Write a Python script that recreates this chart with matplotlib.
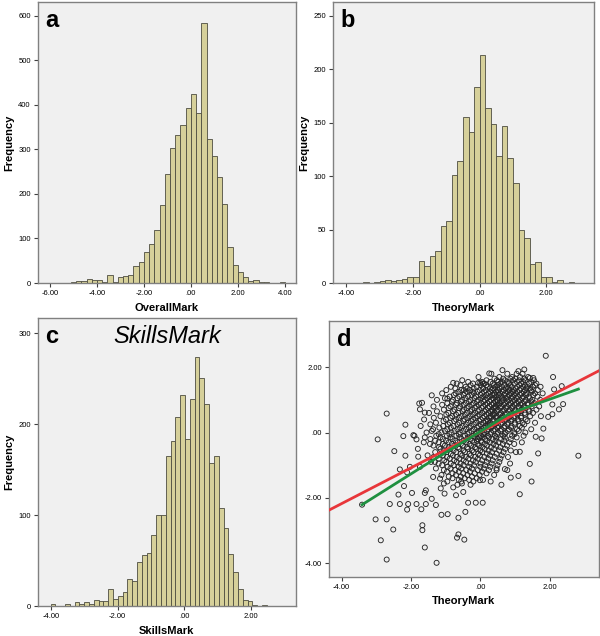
import numpy as np
import matplotlib
matplotlib.use('Agg')
import matplotlib.pyplot as plt

plt.rcParams['font.family'] = ['Liberation Sans', 'DejaVu Sans']

# histogram a: OverallMark, bins of 2/9 starting at -25*2/9
overall_start = -25 * 2 / 9
overall_width = 2 / 9
overall_counts = [1, 1, 2, 4, 5, 9, 7, 6, 3, 17, 2, 13, 16, 18, 39, 48, 69, 87, 120, 176,
                  245, 303, 333, 355, 392, 424, 381, 583, 323, 285, 238, 177, 80, 40, 25, 13,
                  5, 7, 2, 2, 0, 0, 2]

# histogram b: TheoryMark, bins of 1/6 starting at -21/6
theory_start = -21 / 6
theory_width = 1 / 6
theory_counts = [1, 0, 1, 2, 3, 2, 3, 4, 6, 6, 21, 16, 25, 30, 53, 58, 101, 114, 155, 141,
                 183, 213, 164, 149, 119, 147, 117, 94, 50, 42, 18, 20, 6, 6, 1, 3, 0, 1]

# histogram c: SkillsMark
skills_start = 0.03 - 28 * 0.1445
skills_width = 0.1445
skills_counts = [2, 0, 0, 2, 0, 4, 2, 4, 2, 7, 6, 6, 19, 8, 11, 15, 30, 28, 48, 56, 58, 78,
                 100, 100, 165, 182, 208, 232, 184, 228, 274, 251, 222, 158, 165, 108, 86,
                 57, 38, 19, 7, 6, 1, 0, 1]

# scatter d: TheoryMark vs SkillsMark (outlying points)
out_x = [1.89, -2.70, -2.96, -2.48, -3.02, -2.70, -2.87, -2.51, -2.70, -1.26, -1.60, -1.67,
         -1.67, -0.67, -0.63, -0.46, -0.63, -0.94, -1.12, -0.43, 2.83, 1.14, 1.48, 1.43,
         1.67, 2.39, 2.10, 2.08, 2.27, 0.64, 0.26, -0.78, -1.40, -1.76, -2.16, -2.22, -2.16,
         -2.03, -2.36, -2.20, -2.61, -2.32, -2.08, -2.11, -1.84, -1.57, -1.70, -1.28, -1.60,
         -1.57, -1.97, -1.40, -1.14, -1.03, -0.35, -0.13, 0.07, 0.61, 0.88, 0.78, 1.10, 1.14,
         1.60, 1.77, 1.82, 1.96, 2.08, 2.35, 2.13, 1.53, 1.27, 1.10, 1.43, -0.06, 0.00, 0.09,
         -0.47, -0.95, -1.68, -1.74, -1.60, -1.93, -1.84, -1.79, -2.32, -2.11, -1.74, -1.31,
         -1.36, -1.16, -1.05, -0.78, -0.49, -0.70, -0.53, -0.01, 0.47, 0.71, 0.86, -3.41]
out_y = [2.35, 0.58, -0.21, -0.57, -2.66, -2.66, -3.30, -2.97, -3.89, -3.99, -3.52, -2.84,
         -2.99, -3.22, -3.12, -3.28, -2.61, -2.50, -2.52, -2.43, -0.71, -1.89, -1.50, -0.96,
         -0.64, 0.87, 1.70, 0.56, 0.71, 1.91, 1.81, 1.52, 1.14, 0.89, 0.24, -0.11, -0.71,
         -1.05, -1.90, -1.64, -2.19, -2.19, -2.19, -2.36, -2.19, -2.19, -2.35, -2.22, -1.85,
         -1.77, -1.85, -2.03, -1.71, -1.87, -2.15, -2.15, -2.15, -1.60, -1.38, -1.15, -1.33,
         -0.59, -0.13, -0.18, 0.12, 0.48, 0.86, 1.42, 1.32, 1.67, 1.93, 1.88, 1.67, 1.52,
         1.52, 1.50, 1.30, 1.04, 0.91, 0.71, 0.61, -0.08, -0.21, -0.74, -1.13, -1.22, -1.05,
         -0.90, -1.36, -1.41, -1.56, -1.68, -1.82, -1.92, -1.56, -1.46, -1.15, -1.12, -0.95,
         -2.21]

# dense centre of the cloud, one list of TheoryMark values per SkillsMark row
core_y = [1.8, 1.7, 1.6, 1.5, 1.4, 1.3, 1.2, 1.1, 1.0, 0.9, 0.8, 0.7, 0.6, 0.5, 0.4, 0.3,
          0.2, 0.1, 0.0, -0.1, -0.2, -0.3, -0.4, -0.5, -0.6, -0.7, -0.8, -0.9, -1.0, -1.1,
          -1.2, -1.3, -1.4, -1.5, -1.6]
core_x = [
    [0.32, 0.78, 1.05, 1.22],
    [-0.05, 0.55, 0.92, 1.15, 1.38],
    [-0.52, 0.18, 0.48, 0.71, 0.95, 1.12, 1.30, 1.55],
    [-0.68, -0.21, 0.12, 0.36, 0.58, 0.83, 0.99, 1.18, 1.41, 1.62],
    [-0.85, -0.42, -0.10, 0.21, 0.44, 0.62, 0.77, 0.91, 1.07, 1.24, 1.35, 1.52, 1.74],
    [-0.98, -0.55, -0.30, -0.02, 0.16, 0.33, 0.51, 0.68, 0.85, 0.97, 1.13, 1.29, 1.46, 1.66],
    [-1.10, -0.71, -0.44, -0.18, 0.05, 0.24, 0.40, 0.57, 0.72, 0.88, 1.02, 1.19, 1.33, 1.58, 1.80],
    [-0.88, -0.60, -0.35, -0.12, 0.09, 0.27, 0.45, 0.61, 0.79, 0.93, 1.08, 1.24, 1.40, 1.65],
    [-1.25, -0.79, -0.52, -0.28, -0.06, 0.13, 0.31, 0.49, 0.66, 0.82, 0.98, 1.14, 1.31, 1.50, 1.73],
    [-0.95, -0.67, -0.41, -0.19, 0.02, 0.20, 0.38, 0.55, 0.71, 0.87, 1.03, 1.20, 1.37, 1.56],
    [-1.35, -0.86, -0.58, -0.33, -0.11, 0.08, 0.26, 0.43, 0.60, 0.76, 0.93, 1.10, 1.27, 1.48, 1.70],
    [-1.05, -0.74, -0.47, -0.24, -0.03, 0.16, 0.34, 0.51, 0.68, 0.85, 1.01, 1.19, 1.39, 1.62],
    [-1.48, -0.92, -0.63, -0.38, -0.15, 0.06, 0.24, 0.41, 0.58, 0.74, 0.91, 1.09, 1.28, 1.52],
    [-1.15, -0.81, -0.54, -0.30, -0.08, 0.12, 0.30, 0.47, 0.64, 0.81, 0.99, 1.18, 1.44, 1.75],
    [-1.62, -0.99, -0.70, -0.45, -0.21, 0.01, 0.20, 0.38, 0.55, 0.72, 0.90, 1.08, 1.31],
    [-1.28, -0.88, -0.60, -0.35, -0.12, 0.09, 0.28, 0.46, 0.63, 0.81, 1.00, 1.22, 1.58],
    [-1.72, -1.07, -0.77, -0.51, -0.27, -0.05, 0.15, 0.34, 0.52, 0.70, 0.90, 1.14],
    [-1.36, -0.95, -0.66, -0.41, -0.18, 0.04, 0.23, 0.42, 0.61, 0.83, 1.06, 1.47],
    [-1.55, -1.12, -0.83, -0.57, -0.32, -0.09, 0.12, 0.31, 0.51, 0.73, 0.98, 1.30],
    [-1.90, -1.27, -0.96, -0.69, -0.44, -0.20, 0.02, 0.22, 0.43, 0.66, 0.92, 1.25],
    [-1.44, -1.08, -0.80, -0.54, -0.30, -0.07, 0.14, 0.36, 0.60, 0.88],
    [-1.63, -1.20, -0.91, -0.65, -0.41, -0.17, 0.05, 0.28, 0.53, 0.84, 1.20],
    [-1.35, -1.02, -0.75, -0.50, -0.26, -0.03, 0.20, 0.46, 0.77],
    [-1.80, -1.15, -0.86, -0.60, -0.35, -0.11, 0.13, 0.40, 0.72],
    [-1.30, -0.97, -0.69, -0.44, -0.19, 0.06, 0.34, 0.67, 1.03],
    [-1.52, -1.08, -0.79, -0.52, -0.27, -0.01, 0.28, 0.62],
    [-1.20, -0.88, -0.60, -0.34, -0.07, 0.23, 0.58],
    [-1.42, -0.98, -0.68, -0.41, -0.13, 0.18, 0.55],
    [-1.10, -0.77, -0.48, -0.18, 0.14, 0.50],
    [-1.28, -0.86, -0.55, -0.24, 0.10, 0.47],
    [-0.96, -0.62, -0.30, 0.05],
    [-1.12, -0.70, -0.37, -0.02, 0.40],
    [-0.80, -0.45, -0.10],
    [-0.95, -0.55, -0.20, 0.30],
    [-0.66, -0.28],
]

# second pass of the centre, rows in between the first ones
core2_y = [1.65, 1.55, 1.45, 1.35, 1.25, 1.15, 1.05, 0.95, 0.85, 0.75, 0.65, 0.55, 0.45,
           0.35, 0.25, 0.15, 0.05, -0.05, -0.15, -0.25, -0.35, -0.45, -0.55, -0.65, -0.75,
           -0.85, -0.95, -1.05, -1.15, -1.25, -1.35, -1.45]
core2_x = [
    [0.41, 0.66, 0.87, 1.01, 1.27],
    [-0.35, 0.05, 0.29, 0.52, 0.63, 0.80, 1.06, 1.24, 1.47],
    [-0.57, -0.28, 0.02, 0.17, 0.40, 0.50, 0.69, 0.86, 1.13, 1.29, 1.58],
    [-0.72, -0.37, -0.19, 0.08, 0.28, 0.37, 0.55, 0.73, 0.81, 1.02, 1.17, 1.33, 1.44],
    [-0.63, -0.39, -0.22, -0.08, 0.11, 0.29, 0.46, 0.52, 0.65, 0.79, 0.94, 1.07, 1.26, 1.49],
    [-0.76, -0.48, -0.25, 0.01, 0.18, 0.35, 0.41, 0.54, 0.70, 0.84, 1.00, 1.15, 1.32, 1.53],
    [-1.02, -0.66, -0.43, -0.17, 0.03, 0.20, 0.37, 0.53, 0.63, 0.75, 0.90, 1.06, 1.22, 1.43],
    [-0.82, -0.56, -0.33, -0.10, 0.10, 0.27, 0.44, 0.50, 0.62, 0.78, 0.94, 1.11, 1.28, 1.47],
    [-1.10, -0.70, -0.48, -0.25, -0.04, 0.15, 0.33, 0.47, 0.53, 0.68, 0.83, 0.99, 1.16, 1.38],
    [-0.91, -0.62, -0.39, -0.16, 0.04, 0.22, 0.39, 0.44, 0.59, 0.75, 0.92, 1.12, 1.30],
    [-1.25, -0.78, -0.51, -0.29, -0.07, 0.13, 0.30, 0.35, 0.49, 0.66, 0.83, 1.00, 1.18, 1.42],
    [-0.98, -0.70, -0.45, -0.22, -0.02, 0.18, 0.36, 0.40, 0.56, 0.72, 0.89, 1.07, 1.29],
    [-1.34, -0.86, -0.61, -0.37, -0.14, 0.07, 0.25, 0.31, 0.47, 0.63, 0.81, 0.97, 1.18],
    [-1.06, -0.75, -0.49, -0.27, -0.03, 0.16, 0.22, 0.37, 0.54, 0.71, 0.89, 1.11, 1.36],
    [-1.44, -0.93, -0.66, -0.42, -0.19, 0.02, 0.21, 0.26, 0.43, 0.60, 0.78, 0.99, 1.27],
    [-1.18, -0.85, -0.58, -0.33, -0.10, 0.10, 0.17, 0.32, 0.50, 0.69, 0.89, 1.20],
    [-1.40, -1.02, -0.74, -0.49, -0.25, -0.03, 0.05, 0.20, 0.38, 0.58, 0.80, 1.11],
    [-1.20, -0.89, -0.62, -0.37, -0.13, 0.07, 0.11, 0.29, 0.49, 0.71, 0.99],
    [-1.60, -1.15, -0.86, -0.60, -0.36, -0.14, -0.03, 0.06, 0.25, 0.46, 0.71, 1.05],
    [-1.30, -0.99, -0.72, -0.47, -0.23, -0.10, 0.02, 0.20, 0.44, 0.69],
    [-1.45, -1.08, -0.82, -0.56, -0.31, -0.08, 0.13, 0.38, 0.65, 0.98],
    [-1.19, -0.91, -0.64, -0.38, -0.15, 0.06, 0.31, 0.58],
    [-1.05, -0.77, -0.49, -0.24, 0.00, 0.24, 0.55, 0.88],
    [-1.14, -0.85, -0.57, -0.31, -0.06, 0.19, 0.47],
    [-1.35, -0.96, -0.68, -0.42, -0.15, 0.12, 0.42, 0.80],
    [-1.04, -0.75, -0.48, -0.21, 0.06, 0.36],
    [-1.20, -0.85, -0.57, -0.28, 0.01, 0.33],
    [-0.94, -0.62, -0.32, 0.00, 0.29],
    [-1.05, -0.72, -0.40, -0.07, 0.25],
    [-0.80, -0.49, -0.16, 0.18],
    [-0.91, -0.56, -0.24],
    [-0.62, -0.32, 0.08],
]

# fit lines in panel d
fit_slope = 0.548
fit_intercept = 0.015
loess_x = [-3.41, -1.6, -0.7, 0.0, 0.8, 1.5, 2.83]
loess_y = [-2.21, -1.00, -0.42, 0.03, 0.55, 0.83, 1.33]

BAR = '#d6d09a'
EDGE = '#4d4d40'
BG = '#f0f0f0'
SPINE = '#808080'


def style_axes(ax):
    ax.set_facecolor(BG)
    for s in ax.spines.values():
        s.set_color(SPINE)
        s.set_linewidth(1.0)
    ax.tick_params(length=3, width=0.8, color='#404040', labelsize=5.5, pad=2)


def fmt(v):
    s = '%.2f' % v
    if s.startswith('0.'):
        s = s[1:]
    if s == '-0.00':
        s = '.00'
    return s


def histogram(ax, start, width, counts, xticks, yticks, xlim, ylim, xlabel):
    counts = np.array(counts)
    lefts = start + width * np.arange(len(counts))
    ax.bar(lefts, counts, width=width, align='edge', color=BAR, edgecolor=EDGE, linewidth=0.6)
    ax.set_xlim(*xlim)
    ax.set_ylim(*ylim)
    ax.set_xticks(xticks)
    ax.set_xticklabels([fmt(t) for t in xticks])
    ax.set_yticks(yticks)
    ax.set_ylabel('Frequency', fontsize=8, fontweight='bold', labelpad=3)
    ax.set_xlabel(xlabel, fontsize=8, fontweight='bold', labelpad=4)
    style_axes(ax)


fig = plt.figure(figsize=(6, 6.36), dpi=100)

ax_a = fig.add_axes([0.063, 0.555, 0.430, 0.442])
histogram(ax_a, overall_start, overall_width, overall_counts,
          [-6, -4, -2, 0, 2, 4], range(0, 700, 100), (-6.52, 4.47), (0, 631), 'OverallMark')
ax_a.text(0.03, 0.975, 'a', transform=ax_a.transAxes, fontsize=17, fontweight='bold', va='top')

ax_b = fig.add_axes([0.555, 0.555, 0.435, 0.442])
histogram(ax_b, theory_start, theory_width, theory_counts,
          [-4, -2, 0, 2], range(0, 300, 50), (-4.40, 3.43), (0, 263), 'TheoryMark')
ax_b.text(0.03, 0.975, 'b', transform=ax_b.transAxes, fontsize=17, fontweight='bold', va='top')

ax_c = fig.add_axes([0.063, 0.047, 0.430, 0.453])
histogram(ax_c, skills_start, skills_width, skills_counts,
          [-4, -2, 0, 2], [0, 100, 200, 300], (-4.40, 3.36), (0, 317), 'SkillsMark')
ax_c.text(0.03, 0.975, 'c', transform=ax_c.transAxes, fontsize=17, fontweight='bold', va='top')
ax_c.text(0.5, 0.975, 'SkillsMark', transform=ax_c.transAxes, fontsize=17, fontstyle='italic',
          ha='center', va='top')

ax_d = fig.add_axes([0.548, 0.093, 0.450, 0.402])
px = list(out_x)
py = list(out_y)
for yv, xs in list(zip(core_y, core_x)) + list(zip(core2_y, core2_x)):
    px += xs
    py += [yv] * len(xs)
ax_d.scatter(px, py, s=13, facecolors='none', edgecolors='#262626', linewidths=0.65, zorder=2)
xl = np.array([-4.37, 3.42])
ax_d.plot(xl, fit_intercept + fit_slope * xl, color='#e8363a', lw=2.0, zorder=3)
ax_d.plot(loess_x, loess_y, color='#1f9040', lw=2.0, zorder=4)
ax_d.set_xlim(-4.37, 3.42)
ax_d.set_ylim(-4.42, 3.41)
ax_d.set_xticks([-4, -2, 0, 2])
ax_d.set_xticklabels([fmt(t) for t in [-4, -2, 0, 2]])
ax_d.set_yticks([2, 0, -2, -4])
ax_d.set_yticklabels([fmt(t) for t in [2, 0, -2, -4]])
ax_d.set_xlabel('TheoryMark', fontsize=8, fontweight='bold', labelpad=4)
style_axes(ax_d)
ax_d.text(0.03, 0.975, 'd', transform=ax_d.transAxes, fontsize=17, fontweight='bold', va='top')

fig.savefig('out.png', dpi=100)
